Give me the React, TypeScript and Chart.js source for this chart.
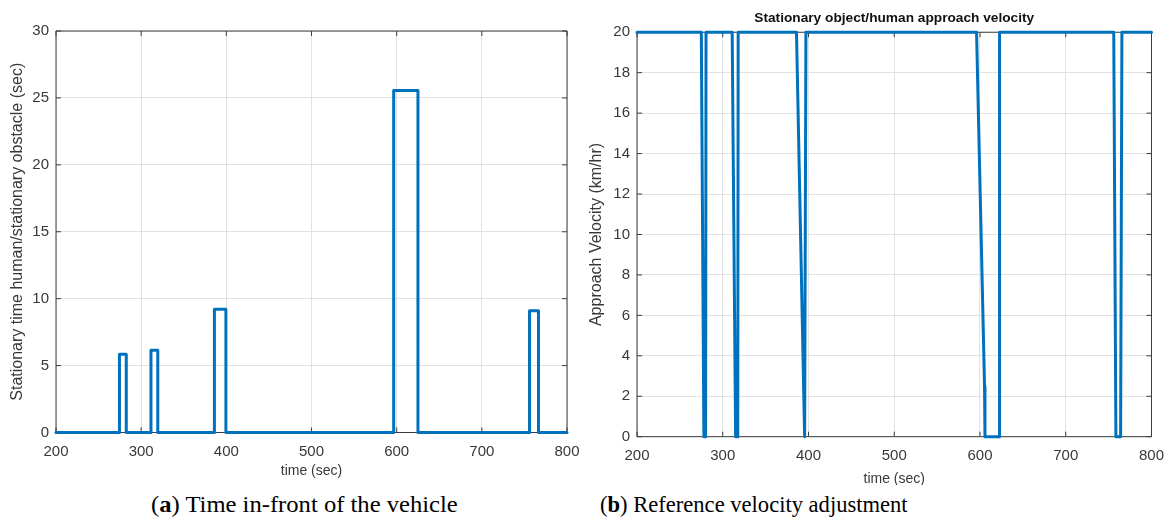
import React, { useEffect, useRef } from "react";
import { Chart, registerables } from "chart.js";

Chart.register(...registerables);

// ---------- data ----------
const timeTicks = [200, 300, 400, 500, 600, 700, 800];
const stationaryTicks = [0, 5, 10, 15, 20, 25, 30];
const velocityTicks = [0, 2, 4, 6, 8, 10, 12, 14, 16, 18, 20];

// (a) stationary time of human / obstacle in front of the vehicle (sec)
const stationaryTime = [
  200, 274.5, 274.5, 282.5, 282.5, 311.5, 311.5, 319.5, 319.5, 386, 386, 399.5, 399.5,
  596.5, 596.5, 625, 625, 756, 756, 766.5, 766.5, 800,
];
const stationaryValue = [
  0, 0, 5.85, 5.85, 0, 0, 6.15, 6.15, 0, 0, 9.2, 9.2, 0,
  0, 25.55, 25.55, 0, 0, 9.1, 9.1, 0, 0,
];

// (b) approach velocity (km/hr)
const velocityTime = [
  200, 275, 278, 280, 280.5, 311, 315, 317.5, 318, 386, 395.5, 397,
  596, 605.3, 605.8, 622.3, 622.8, 756, 758.5, 764, 765.5, 800,
];
const velocityValue = [
  20, 20, 0, 0, 20, 20, 0, 0, 20, 20, 0, 20,
  20, 2.5, 0, 0, 20, 20, 0, 0, 20, 20,
];

// ---------- styles ----------
const BLUE = "#0072BD";
const GRID = "#e2e2e2";
const AXIS = "#3c3c3c";
const TEXT = "#383838";
const SANS = "'Liberation Sans', Arial, Helvetica, sans-serif";

const boxPlugin = {
  id: "matlabBox",
  beforeDatasetsDraw(chart: any) {
    const { ctx, chartArea } = chart;
    const { left, right, top, bottom } = chartArea;
    const xs = chart.scales.x;
    const ys = chart.scales.y;
    const L = 5;
    ctx.save();
    ctx.strokeStyle = AXIS;
    ctx.lineWidth = 1;
    ctx.beginPath();
    ctx.rect(left, top, right - left, bottom - top);
    xs.ticks.forEach((t: any) => {
      const p = xs.getPixelForValue(t.value);
      ctx.moveTo(p, bottom);
      ctx.lineTo(p, bottom - L);
      ctx.moveTo(p, top);
      ctx.lineTo(p, top + L);
    });
    ys.ticks.forEach((t: any) => {
      const p = ys.getPixelForValue(t.value);
      ctx.moveTo(left, p);
      ctx.lineTo(left + L, p);
      ctx.moveTo(right, p);
      ctx.lineTo(right - L, p);
    });
    ctx.stroke();
    ctx.restore();
  },
};

type PanelSpec = {
  times: number[];
  values: number[];
  yTicks: number[];
  yTitle: string;
  title?: string;
  canvasW: number;
  canvasH: number;
  padLeft: number;
  padRight: number;
  padTop: number;
  yWidth: number;
  xHeight: number;
  yTitlePad: number;
  xTitlePad: number;
  titlePadTop?: number;
  titlePadBottom?: number;
};

function buildConfig(s: PanelSpec): any {
  return {
    type: "line",
    data: {
      datasets: [
        {
          data: s.times.map((t, i) => ({ x: t, y: s.values[i] })),
          borderColor: BLUE,
          borderWidth: 3,
          pointRadius: 0,
          tension: 0,
          fill: false,
          borderJoinStyle: "round",
          borderCapStyle: "round",
          clip: false,
        },
      ],
    },
    options: {
      animation: false,
      responsive: false,
      maintainAspectRatio: false,
      layout: {
        padding: { left: s.padLeft, right: s.padRight, top: s.padTop, bottom: 0 },
      },
      plugins: {
        legend: { display: false },
        tooltip: { enabled: false },
        title: s.title
          ? {
              display: true,
              fullSize: false,
              text: s.title,
              color: "#111111",
              font: { family: SANS, size: 13.7, weight: "bold", lineHeight: 1.2 },
              padding: { top: s.titlePadTop ?? 0, bottom: s.titlePadBottom ?? 0 },
            }
          : { display: false },
      },
      scales: {
        x: {
          type: "linear",
          min: timeTicks[0],
          max: timeTicks[timeTicks.length - 1],
          afterBuildTicks: (sc: any) => {
            sc.ticks = timeTicks.map((v) => ({ value: v }));
          },
          afterFit: (sc: any) => {
            sc.height = s.xHeight;
          },
          ticks: {
            font: { family: SANS, size: 15 },
            color: TEXT,
            padding: 10,
            maxRotation: 0,
            autoSkip: false,
          },
          grid: { color: GRID, drawTicks: false, lineWidth: 1 },
          border: { display: false },
          title: {
            display: true,
            text: "time (sec)",
            color: TEXT,
            font: { family: SANS, size: 14, lineHeight: 1.2 },
            padding: { top: 0, bottom: s.xTitlePad },
          },
        },
        y: {
          type: "linear",
          min: s.yTicks[0],
          max: s.yTicks[s.yTicks.length - 1],
          afterBuildTicks: (sc: any) => {
            sc.ticks = s.yTicks.map((v) => ({ value: v }));
          },
          afterFit: (sc: any) => {
            sc.width = s.yWidth;
          },
          ticks: {
            font: { family: SANS, size: 15 },
            color: TEXT,
            padding: 7,
            autoSkip: false,
          },
          grid: { color: GRID, drawTicks: false, lineWidth: 1 },
          border: { display: false },
          title: {
            display: true,
            text: s.yTitle,
            color: TEXT,
            font: { family: SANS, size: 16, lineHeight: 1.2 },
            padding: { top: s.yTitlePad, bottom: 0 },
          },
        },
      },
    },
    plugins: [boxPlugin],
  };
}

function Panel({ spec, left, top }: { spec: PanelSpec; left: number; top: number }) {
  const ref = useRef<HTMLCanvasElement | null>(null);
  useEffect(() => {
    if (!ref.current) return;
    const chart = new Chart(ref.current, buildConfig(spec));
    return () => chart.destroy();
  }, []);
  return (
    <canvas
      ref={ref}
      width={spec.canvasW}
      height={spec.canvasH}
      style={{
        position: "absolute",
        left,
        top,
        width: spec.canvasW,
        height: spec.canvasH,
      }}
    />
  );
}

const leftSpec: PanelSpec = {
  times: stationaryTime,
  values: stationaryValue,
  yTicks: stationaryTicks,
  yTitle: "Stationary time human/stationary obstacle (sec)",
  canvasW: 600,
  canvasH: 490,
  padLeft: 0,
  padRight: 33,
  padTop: 31,
  yWidth: 56,
  xHeight: 57.5,
  yTitlePad: 7.5,
  xTitlePad: 10,
};

const rightSpec: PanelSpec = {
  times: velocityTime,
  values: velocityValue,
  yTicks: velocityTicks,
  yTitle: "Approach Velocity (km/hr)",
  title: "Stationary object/human approach velocity",
  canvasW: 594,
  canvasH: 490,
  padLeft: 0,
  padRight: 22,
  padTop: 0,
  yWidth: 57,
  xHeight: 53.3,
  yTitlePad: 7,
  xTitlePad: 2,
  titlePadTop: 10,
  titlePadBottom: 5.8,
};

const captionStyle: React.CSSProperties = {
  position: "absolute",
  fontFamily: "'Liberation Serif', 'Times New Roman', serif",
  fontSize: 24,
  color: "#000",
  whiteSpace: "nowrap",
  lineHeight: "24px",
  background: "#fff",
};

const captionText: React.CSSProperties = {
  position: "absolute",
  display: "inline-block",
  transformOrigin: "0 0",
};

export default function App() {
  return (
    <div
      style={{
        position: "absolute",
        left: 0,
        top: 0,
        width: 1174,
        height: 519,
        background: "#ffffff",
        overflow: "hidden",
      }}
    >
      <Panel spec={leftSpec} left={0} top={0} />
      <Panel spec={rightSpec} left={580} top={0} />
      <div style={{ ...captionStyle, left: 0, top: 488, width: 580, height: 31 }}>
        <span style={{ ...captionText, left: 151, top: 4, transform: "scaleX(1.025)" }}>
          (<b>a</b>) Time in-front of the vehicle
        </span>
      </div>
      <div style={{ ...captionStyle, left: 580, top: 485, width: 594, height: 34 }}>
        <span style={{ ...captionText, left: 20, top: 7, transform: "scaleX(0.94)" }}>
          (<b>b</b>) Reference velocity adjustment
        </span>
      </div>
    </div>
  );
}
